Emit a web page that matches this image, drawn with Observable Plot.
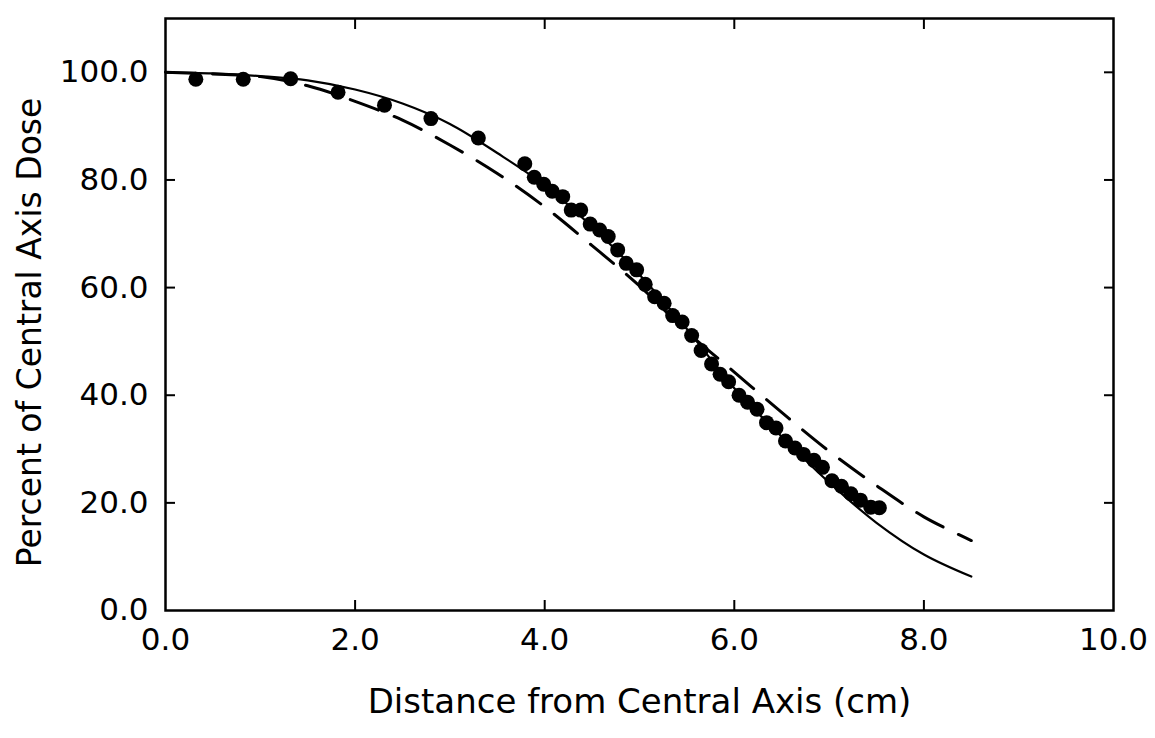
<!DOCTYPE html>
<html>
<head>
<meta charset="utf-8">
<script src="https://cdn.jsdelivr.net/npm/d3@7"></script>
<script src="https://cdn.jsdelivr.net/npm/@observablehq/plot@0.6"></script>
<style>
  html, body { margin: 0; padding: 0; background: #fff; }
  #chart svg { display: block; }
</style>
</head>
<body>
<div id="chart"></div>
<script>
// Measured data points (distance cm, percent of central axis dose)
const measuredX = [0.32, 0.82, 1.32, 1.82, 2.31, 2.80, 3.30,
  3.79, 3.89, 3.99, 4.08, 4.19, 4.28, 4.38, 4.48, 4.58, 4.67, 4.77, 4.86, 4.97,
  5.06, 5.16, 5.26, 5.35, 5.45, 5.55, 5.65, 5.76, 5.85, 5.94, 6.05, 6.14, 6.24,
  6.34, 6.44, 6.54, 6.64, 6.73, 6.84, 6.93, 7.03, 7.13, 7.23, 7.33, 7.44, 7.53];
const measuredY = [98.7, 98.7, 98.8, 96.3, 93.9, 91.4, 87.8,
  83.0, 80.5, 79.2, 77.9, 76.9, 74.4, 74.4, 71.8, 70.7, 69.5, 67.0, 64.5, 63.3,
  60.6, 58.3, 57.1, 54.8, 53.6, 51.1, 48.3, 45.8, 43.9, 42.5, 40.0, 38.7, 37.4,
  34.9, 33.9, 31.5, 30.2, 29.0, 27.9, 26.6, 24.1, 23.1, 21.7, 20.5, 19.2, 19.1];

// Calculated curves
const curveX = [0, 0.5, 1.0, 1.5, 2.0, 2.5, 3.0, 3.5, 4.0, 4.5, 5.0, 5.5, 6.0, 6.5, 7.0, 7.5, 8.0, 8.5];
const solidY = [100, 99.8, 99.3, 98.5, 96.8, 94.2, 90.4, 85.0, 79.0, 71.3, 62.4, 52.3, 41.3, 32.3, 23.8, 16.3, 10.4, 6.3];
const dashedY = [100, 99.7, 99.2, 97.5, 94.6, 91.1, 86.5, 81.2, 75.0, 67.8, 60.3, 51.8, 44.3, 36.8, 29.6, 23.2, 17.4, 13.0];

const xTicks = [0, 2, 4, 6, 8, 10];
const yTicks = [0, 20, 40, 60, 80, 100];
const xTitle = "Distance from Central Axis (cm)";
const yTitle = "Percent of Central Axis Dose";

const measured = measuredX.map((x, i) => ({x, y: measuredY[i]}));
const solid = curveX.map((x, i) => ({x, y: solidY[i]}));
const dashed = curveX.map((x, i) => ({x, y: dashedY[i]}));

const font = "DejaVu Sans, sans-serif";
const fmt = d => d.toFixed(1);

const chart = Plot.plot({
  width: 1155,
  height: 738,
  marginLeft: 165,
  marginRight: 42,
  marginTop: 18,
  marginBottom: 128,
  style: {fontFamily: font, color: "#000", background: "#fff"},
  x: {domain: [0, 10]},
  y: {domain: [0, 110]},
  marks: [
    Plot.frame({stroke: "#000", strokeWidth: 2.5}),
    // inward ticks on all four sides
    Plot.axisX({anchor: "bottom", ticks: xTicks.slice(1, -1), tickSize: 10, dy: -10, tickFormat: () => "", label: null, strokeWidth: 2}),
    Plot.axisX({anchor: "top", ticks: xTicks.slice(1, -1), tickSize: 10, dy: 10, tickFormat: () => "", label: null, strokeWidth: 2}),
    Plot.axisY({anchor: "left", ticks: yTicks.slice(1), tickSize: 10, dx: 10, tickFormat: () => "", label: null, strokeWidth: 2}),
    Plot.axisY({anchor: "right", ticks: yTicks.slice(1), tickSize: 10, dx: -10, tickFormat: () => "", label: null, strokeWidth: 2}),
    // tick labels
    Plot.axisX({anchor: "bottom", ticks: xTicks, tickSize: 0, tickPadding: 17, tickFormat: fmt, fontSize: 31, label: null}),
    Plot.axisY({anchor: "left", ticks: yTicks, tickSize: 0, tickPadding: 17, tickFormat: fmt, fontSize: 31, label: null}),
    // axis titles
    Plot.text([xTitle], {frameAnchor: "bottom", dy: 102, text: d => d, fontSize: 34, fill: "#000"}),
    Plot.text([yTitle], {frameAnchor: "left", dx: -135, dy: 18, rotate: -90, textAnchor: "middle", text: d => d, fontSize: 33, fill: "#000"}),
    // curves
    Plot.line(dashed, {x: "x", y: "y", stroke: "#000", strokeWidth: 3, strokeDasharray: "30,17", curve: "catmull-rom"}),
    Plot.line(solid, {x: "x", y: "y", stroke: "#000", strokeWidth: 2.2, curve: "catmull-rom"}),
    // measured points
    Plot.dot(measured, {x: "x", y: "y", r: 7.5, fill: "#000", stroke: null})
  ]
});
document.getElementById("chart").append(chart);
</script>
</body>
</html>
